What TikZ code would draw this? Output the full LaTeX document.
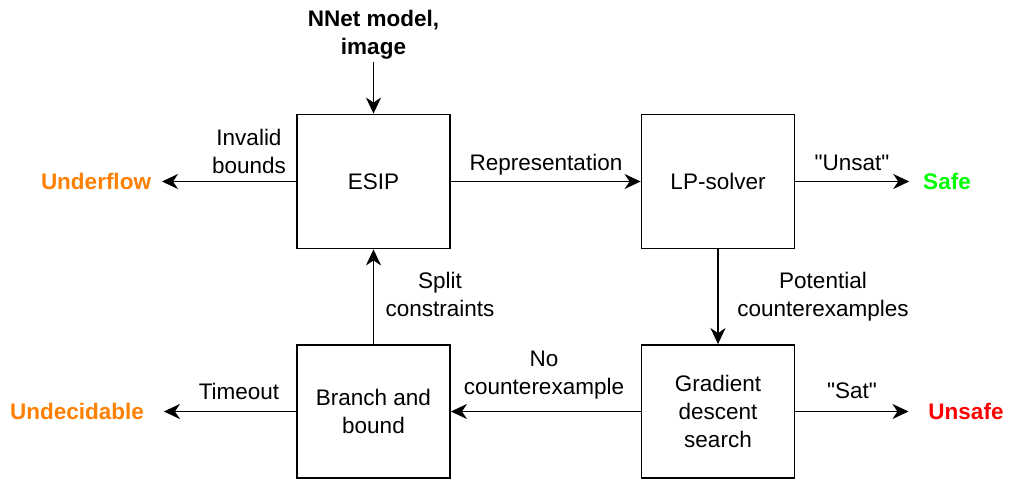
\documentclass[tikz,border=0pt]{standalone}
\usepackage{fontspec}
\setmainfont{Liberation Sans}
\newfontfamily\qfont{Liberation Sans}
\usetikzlibrary{arrows.meta}
\definecolor{outorange}{HTML}{FF8000}
\definecolor{outgreen}{HTML}{00FF00}
\definecolor{outred}{HTML}{FF0000}
\newcommand{\sq}{{\qfont\symbol{34}}}
\begin{document}
\begin{tikzpicture}[x=1pt,y=-1pt,
  every node/.style={font=\fontsize{22.5}{28}\selectfont},
  proc/.style={draw,line width=1.8pt,minimum width=153pt,minimum height=134pt,inner sep=0pt,align=center},
  lbl/.style={align=center,inner sep=0pt,anchor=north},
  outc/.style={font=\fontsize{22.5}{28}\selectfont\bfseries,inner sep=0pt,outer sep=0pt},
  flow/.style={line width=1.8pt,-{Stealth[length=16pt,width=15pt,inset=5pt]}}]
\useasboundingbox (0,0) rectangle (1010,479);

% process boxes
\node[proc] (esip) at (373.5,181.5) {ESIP};
\node[proc] (lp) at (718,181.5) {LP-solver};
\node[proc,minimum height=133pt] (bb) at (373.5,411.5) {Branch and\\bound};
\node[proc,minimum height=133pt] (gd) at (718,411.5) {Gradient\\descent\\search};

% input
\node[lbl,font=\fontsize{22.5}{28}\selectfont\bfseries,outer sep=3pt] (inp) at (373.5,7) {NNet model,\\image};

% outcomes
\node[outc,text=outorange] (under) at (96,181.5) {Underflow};
\node[outc,text=outgreen] (safe) at (947,181.5) {Safe};
\node[outc,text=outorange] (undec) at (77,411.5) {Undecidable};
\node[outc,text=outred] (unsafe) at (966,411.5) {Unsafe};

% connector labels
\node[lbl] (linv) at (249,129) {Invalid\\bounds};
\node[lbl] (lrep) at (546,154) {Representation};
\node[lbl] (lunsat) at (852,155) {\sq Unsat\sq};
\node[lbl] (lpot) at (823,272) {Potential\\counterexamples};
\node[lbl] (lsplit) at (440,272) {Split\\constraints};
\node[lbl] (lno) at (544,351) {No\\counterexample};
\node[lbl] (ltime) at (239,383) {Timeout};
\node[lbl] (lsat) at (852,383) {\sq Sat\sq};

% connectors
\draw[flow] (inp) -- (esip);
\draw[flow] (esip) -- (lp);
\draw[flow] (lp) -- (gd);
\draw[flow] (gd) -- (bb);
\draw[flow] (bb) -- (esip);
\draw[flow,shorten >=11pt] (esip) -- (under);
\draw[flow,shorten >=14pt] (lp) -- (safe);
\draw[flow,shorten >=20pt] (bb) -- (undec);
\draw[flow,shorten >=20pt] (gd) -- (unsafe);
\end{tikzpicture}
\end{document}
